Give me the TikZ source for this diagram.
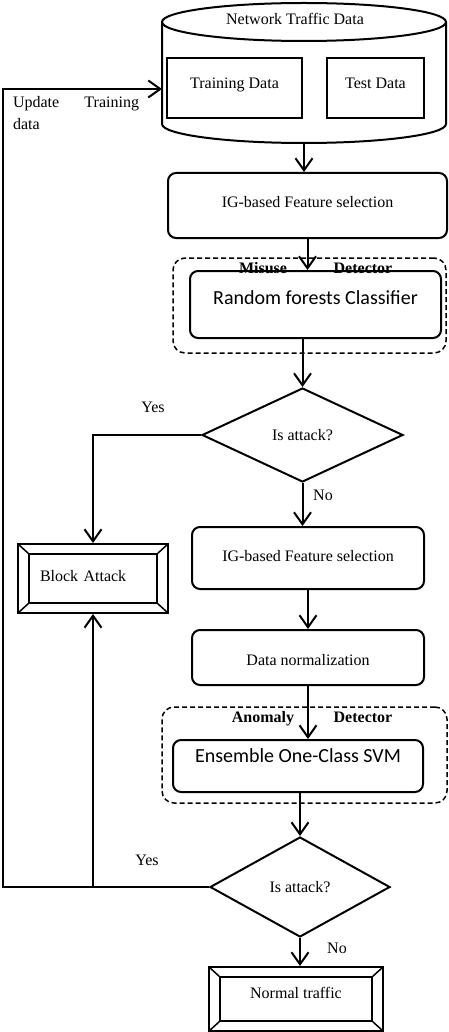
\documentclass[tikz,border=0pt]{standalone}
\usepackage{fontspec}
\setmainfont{Liberation Serif}
\newfontfamily\calibrifont{Carlito}
\usetikzlibrary{arrows.meta, shapes.geometric, calc}

\begin{document}
\begin{tikzpicture}[x=1pt, y=-1pt, line width=2pt,
  every node/.style={font=\fontsize{16}{22}\selectfont},
  procbox/.style={draw, rounded corners=8pt, inner sep=0pt},
  databox/.style={draw, inner sep=0pt, minimum height=60pt, text height=12pt, text depth=10pt},
  groupbox/.style={draw, dash pattern=on 5pt off 3pt, line width=1.5pt, rounded corners=12pt, inner sep=0pt},
  decision/.style={draw, diamond, inner sep=0pt, aspect=2},
  bevelbox/.style={draw, inner sep=0pt,
    path picture={
      \draw[line width=2pt] ([shift={(11pt,-10pt)}]path picture bounding box.north west)
        rectangle ([shift={(-11pt,10pt)}]path picture bounding box.south east);
      \foreach \corner/\dx/\dy in {north west/11pt/-10pt, north east/-11pt/-10pt,
                                   south west/11pt/10pt, south east/-11pt/10pt}
        \draw[line width=1.5pt] (path picture bounding box.\corner) -- ++(\dx,\dy);
    }},
  calibri/.style={font=\calibrifont\fontsize{20}{24}\selectfont},
  grouplabel/.style={anchor=base, font=\fontsize{16}{22}\selectfont\bfseries},
  answer/.style={anchor=base},
  flow/.style={-{Straight Barb[length=12pt, width=17pt]}}
]
  \useasboundingbox (0,0) rectangle (448,1032);

  % data store
  \draw (162,22) -- (162,124) arc[start angle=180, end angle=0, x radius=142, y radius=19] -- (446,22);
  \draw (304,22) ellipse[x radius=142, y radius=19];
  \coordinate (cylbottom) at (304,143);
  \coordinate (cylleft) at (162,89);
  \node[anchor=base] (storetitle) at (295,25) {Network Traffic Data};
  \node[databox, minimum width=135pt] (train) at (234.5,88) {Training Data};
  \node[databox, minimum width=97pt] (test) at (375.5,88) {Test Data};

  % misuse branch
  \node[procbox, minimum width=279pt, minimum height=65pt, text height=12pt, text depth=8pt]
    (igsel) at (307.5,205.5) {IG-based Feature selection};
  \node[groupbox, minimum width=273pt, minimum height=95pt] (misusegrp) at (309.5,305.5) {};
  \node[grouplabel] (misuselbl) at (263,273) {Misuse};
  \node[grouplabel] (misusedet) at (363,273) {Detector};
  \node[procbox, calibri, minimum width=251pt, minimum height=67pt, text height=14pt, text depth=15pt]
    (rfcls) at (315.5,304.5) {Random forests Classifier};
  \node[decision, minimum width=201pt, minimum height=94pt] (isatk1) at (302.5,435) {Is attack?};
  \node[answer] (yes1) at (153,412) {Yes};
  \node[answer] (no1) at (323,500) {No};
  \node[bevelbox, minimum width=150pt, minimum height=69pt, text width=106pt, align=left,
    text height=12pt, text depth=6pt] (block) at (93,578.5) {Block Attack};

  % anomaly branch
  \node[procbox, minimum width=232pt, minimum height=62pt, text height=12pt, text depth=5pt]
    (igsel2) at (308,558) {IG-based Feature selection};
  \node[procbox, minimum width=232pt, minimum height=55pt, text height=18pt, text depth=3pt]
    (datanorm) at (308,657.5) {Data normalization};
  \node[groupbox, minimum width=285pt, minimum height=96pt] (anomalygrp) at (304.5,755) {};
  \node[grouplabel] (anomalylbl) at (263,722) {Anomaly};
  \node[grouplabel] (anomalydet) at (363,722) {Detector};
  \node[procbox, calibri, minimum width=250pt, minimum height=52pt, text height=14pt, text depth=22pt]
    (ocsvm) at (298,766) {Ensemble One-Class SVM};
  \node[decision, minimum width=180pt, minimum height=100pt] (isatk2) at (300,887) {Is attack?};
  \node[answer] (yes2) at (147,865) {Yes};
  \node[answer] (no2) at (337,953) {No};
  \node[bevelbox, minimum width=174pt, minimum height=64pt, text height=12pt, text depth=14pt]
    (normal) at (296,999) {Normal traffic};

  % feedback loop
  \node[anchor=north west, inner sep=0pt, text width=126pt, align=left] (update) at (12,95)
    {Update\hfill Training\\data};
  \coordinate (loopbot) at (3,887);
  \coordinate (looptop) at (3,89);

  % connectors
  \draw[flow] (cylbottom) -- (cylbottom |- igsel.north);
  \draw[flow] (igsel.south) -- (igsel.south |- rfcls.north);
  \draw[flow] (rfcls.south -| isatk1.north) -- (isatk1.north);
  \draw[flow] (isatk1.south) -- (isatk1.south |- igsel2.north);
  \draw[flow] (isatk1.west) -| (block.north);
  \draw[flow] (igsel2.south) -- (datanorm.north);
  \draw[flow] (datanorm.south) -- (datanorm.south |- ocsvm.north);
  \draw[flow] (ocsvm.south -| isatk2.north) -- (isatk2.north);
  \draw[flow] (isatk2.south) -- (isatk2.south |- normal.north);
  \draw[flow] (isatk2.west) -- (loopbot) -- (looptop) -- (cylleft);
  \draw[flow] (block.south |- isatk2.west) -- (block.south);
\end{tikzpicture}
\end{document}
